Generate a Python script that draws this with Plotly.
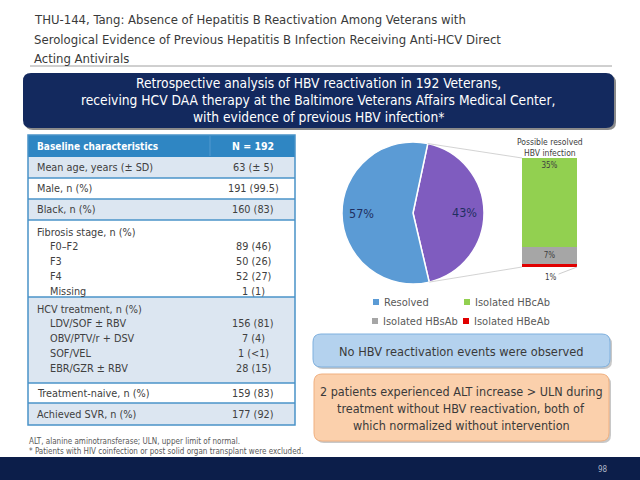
import math
import plotly.graph_objects as go

W, H = 640, 480
FONT = "DejaVu Sans Condensed, Liberation Sans Narrow, Open Sans, sans-serif"

# ---------------- data ----------------
title_lines = [
    "THU-144, Tang: Absence of Hepatitis B Reactivation Among Veterans with",
    "Serological Evidence of Previous Hepatitis B Infection Receiving Anti-HCV Direct",
    "Acting Antivirals",
]
banner_lines = [
    "Retrospective analysis of HBV reactivation in 192 Veterans,",
    "receiving HCV DAA therapy at the Baltimore Veterans Affairs Medical Center,",
    "with evidence of previous HBV infection*",
]
table_header = ["Baseline characteristics", "N = 192"]
row_groups = [
    [("Mean age, years (± SD)", "63 (± 5)", False)],
    [("Male, n (%)", "191 (99.5)", False)],
    [("Black, n (%)", "160 (83)", False)],
    [("Fibrosis stage, n (%)", "", False), ("F0–F2", "89 (46)", True), ("F3", "50 (26)", True),
     ("F4", "52 (27)", True), ("Missing", "1 (1)", True)],
    [("HCV treatment, n (%)", "", False), ("LDV/SOF ± RBV", "156 (81)", True),
     ("OBV/PTV/r + DSV", "7 (4)", True), ("SOF/VEL", "1 (<1)", True), ("EBR/GZR ± RBV", "28 (15)", True)],
    [("Treatment-naive, n (%)", "159 (83)", False)],
    [("Achieved SVR, n (%)", "177 (92)", False)],
]
pie_labels = ["Possible resolved", "Resolved"]
pie_values = [43, 57]
bar_labels = ["Isolated HBeAb", "Isolated HBsAb", "Isolated HBcAb"]
bar_values = [1, 7, 35]
legend_items = ["Resolved", "Isolated HBcAb", "Isolated HBsAb", "Isolated HBeAb"]
bar_title = "Possible resolved<br>HBV infection"
box1_text = "No HBV reactivation events were observed"
box2_lines = [
    "2 patients experienced ALT increase > ULN during",
    "treatment without HBV reactivation, both of",
    "which normalized without intervention",
]
footnotes = [
    "ALT, alanine aminotransferase; ULN, upper limit of normal.",
    "* Patients with HIV coinfection or post solid organ transplant were excluded.",
]
page_number = "98"

# ---------------- style ----------------
C_NAVY = "#13295e"
C_FOOT = "#0c1e4a"
C_HEAD = "#2f86c3"
C_LB = "#dce6f1"
C_BORDER = "#4a93c8"
C_TEXT = "#404040"
C_BLUE = "#5b9bd5"
C_PURPLE = "#7f5cbf"
C_GREEN = "#92d050"
C_GRAY = "#a6a6a6"
C_RED = "#e00000"
pie_colors = [C_PURPLE, C_BLUE]
bar_colors = [C_RED, C_GRAY, C_GREEN]
legend_colors = [C_BLUE, C_GREEN, C_GRAY, C_RED]


def px(x):
    return x / W


def py(y):
    return 1 - y / H


def esc(s):
    return s.replace("<", "&lt;").replace(">", "&gt;")


shapes = []
annotations = []


def text(x, y, s, size=11, color=C_TEXT, anchor="left", bold=False, family=FONT):
    annotations.append(dict(
        x=px(x), y=py(y), xref="paper", yref="paper", text=("<b>%s</b>" % s) if bold else s,
        showarrow=False, xanchor=anchor, yanchor="middle",
        font=dict(size=size, color=color, family=family)))


def rect(x0, y0, x1, y1, fill, line=None, lw=0):
    shapes.append(dict(type="rect", xref="paper", yref="paper",
                       x0=px(x0), x1=px(x1), y0=py(y1), y1=py(y0),
                       fillcolor=fill, line=dict(color=line or fill, width=lw), layer="below"))


def rrect(x0, y0, x1, y1, r, fill, line=None, lw=0, layer="below"):
    rx, ry = r / W, r / H
    X0, X1, Y0, Y1 = px(x0), px(x1), py(y1), py(y0)
    path = (f"M {X0+rx},{Y0} L {X1-rx},{Y0} Q {X1},{Y0} {X1},{Y0+ry} "
            f"L {X1},{Y1-ry} Q {X1},{Y1} {X1-rx},{Y1} L {X0+rx},{Y1} Q {X0},{Y1} {X0},{Y1-ry} "
            f"L {X0},{Y0+ry} Q {X0},{Y0} {X0+rx},{Y0} Z")
    shapes.append(dict(type="path", xref="paper", yref="paper", path=path,
                       fillcolor=fill, line=dict(color=line or fill, width=lw), layer=layer))


def line(x0, y0, x1, y1, color, w=1):
    shapes.append(dict(type="line", xref="paper", yref="paper",
                       x0=px(x0), x1=px(x1), y0=py(y0), y1=py(y1),
                       line=dict(color=color, width=w)))


# title
for i, s in enumerate(title_lines):
    text(32, 20 + i * 19, s, size=13, color="#3a3a3a")
line(30, 66, 612, 66, "#a0a0a0", 1)

# banner
rrect(25, 75, 616, 130, 8, "#8a8a8a")  # shadow
rrect(23, 73, 614, 128, 8, C_NAVY)
for i, s in enumerate(banner_lines):
    text(318, 83 + i * 17, s, size=13.7, color="white", anchor="center")

# table
TX0, TX1, VX = 28, 295, 253
rect(TX0, 135, TX1, 157, C_HEAD)
line(210, 136, 210, 156, "#5aa0d2", 0.8)
text(35, 146, table_header[0], size=10, color="white", bold=True)
text(VX, 146, table_header[1], size=10.5, color="white", anchor="center", bold=True)
bounds = [157, 178, 199, 220, 297, 383, 403, 425]
for gi, grp in enumerate(row_groups):
    y0, y1 = bounds[gi], bounds[gi + 1]
    rect(TX0, y0, TX1, y1, C_LB if gi % 2 == 0 else "white")
    if len(grp) == 1:
        ys = [(y0 + y1) / 2]
    else:
        ys = [y0 + 12 + k * 14.8 for k in range(len(grp))]
    for (lab, val, ind), yy in zip(grp, ys):
        text(48 if ind else 35, yy, esc(lab), size=10.8)
        if val:
            text(VX, yy, esc(val), size=10.8, anchor="center")
for b in bounds[1:-1]:
    line(TX0, b, TX1, b, C_BORDER, 1.5)
shapes.append(dict(type="rect", xref="paper", yref="paper", x0=px(TX0), x1=px(TX1),
                   y0=py(425), y1=py(135), line=dict(color=C_BORDER, width=1.5)))

# footnotes
for i, s in enumerate(footnotes):
    text(27, 441 + i * 10, s, size=8, color="#595959")

# footer bar
rect(0, 457, 640, 480, C_FOOT)
text(603, 469, page_number, size=8, color="#b0b8c8", anchor="center")

# boxes
rrect(315, 336, 612, 369, 8, "#c8c8c8")
rrect(313, 334, 610, 367, 8, "#b4d2ee", line="#7fb0de", lw=1)
text(461, 351, box1_text, size=12.7, color="#3a3a3a", anchor="center")
rrect(316, 376, 611, 443, 8, "#c8c8c8")
rrect(314, 374, 609, 441, 8, "#fbd0ac", line="#f0b080", lw=1)
for i, s in enumerate(box2_lines):
    text(461, 391 + i * 17, esc(s), size=12.5, color="#3a3a3a", anchor="center")

# pie
CX, CY, R = 413, 213, 71
ROT = 12
fig = go.Figure()
fig.add_trace(go.Pie(
    labels=pie_labels, values=pie_values, sort=False, direction="clockwise", rotation=ROT,
    marker=dict(colors=pie_colors, line=dict(color="white", width=1.5)),
    textinfo="none",
    domain=dict(x=[px(CX - R), px(CX + R)], y=[py(CY + R), py(CY - R)]),
    showlegend=False, hoverinfo="label+percent"))
# pie labels on the slice bisectors
tot = sum(pie_values)
start = ROT
for v in pie_values:
    ang = math.radians(start + v / tot * 180)
    start += v / tot * 360
    text(CX + 0.72 * R * math.sin(ang), CY - 0.72 * R * math.cos(ang), f"{round(100 * v / tot)}%",
         size=12.5, color="#1f2f5f", anchor="center")

# stacked bar
BX0, BX1, BY0, BY1 = 522, 577, 158, 267
total = sum(bar_values)
for lab, val, col in zip(bar_labels, bar_values, bar_colors):
    show = val >= 5
    fig.add_trace(go.Bar(
        x=[0], y=[val], name=lab, marker=dict(color=col, line=dict(width=0)),
        text=[f"{val}%" if show else ""], textposition="inside",
        insidetextanchor="end" if val == max(bar_values) else "middle",
        textfont=dict(size=8, color="#404040", family=FONT), textangle=0,
        showlegend=False, xaxis="x", yaxis="y"))
annotations.append(dict(x=0.5, y=0, xref="x", yref="y", text=f"{bar_values[0]}%",
                        showarrow=True, arrowhead=0, arrowwidth=0.8, arrowcolor="#c0c0c0",
                        ax=-26, ay=10, font=dict(size=8, color="#404040", family=FONT)))
text((BX0 + BX1) / 2, 147, bar_title, size=8.5, color="#404040", anchor="center")

# connector lines from pie split points to bar corners
a_top = math.radians(ROT)
a_bot = math.radians(ROT + pie_values[0] / tot * 360)
line(CX + R * math.sin(a_top), CY - R * math.cos(a_top), BX0, BY0, "#c8c8c8", 0.8)
line(CX + R * math.sin(a_bot), CY - R * math.cos(a_bot), BX0, BY1, "#c8c8c8", 0.8)

# manual legend
leg_pos = [(376, 302), (467, 302), (375, 321), (466, 321)]
for lab, col, (lx, ly) in zip(legend_items, legend_colors, leg_pos):
    rect(lx - 3, ly - 3, lx + 3, ly + 3, col)
    text(lx + 6, ly, lab, size=11, color="#595959")

fig.update_layout(
    width=W, height=H, margin=dict(l=0, r=0, t=0, b=0),
    paper_bgcolor="white", plot_bgcolor="rgba(0,0,0,0)",
    barmode="stack", bargap=0,
    xaxis=dict(domain=[px(BX0), px(BX1)], range=[-0.5, 0.5], visible=False, fixedrange=True),
    yaxis=dict(domain=[py(BY1), py(BY0)], range=[0, total], visible=False, fixedrange=True),
    shapes=shapes, annotations=annotations, showlegend=False,
)
fig.write_html("out.html", config={"displayModeBar": False},
               post_script="document.body.style.margin='0';document.body.style.overflow='hidden';")
